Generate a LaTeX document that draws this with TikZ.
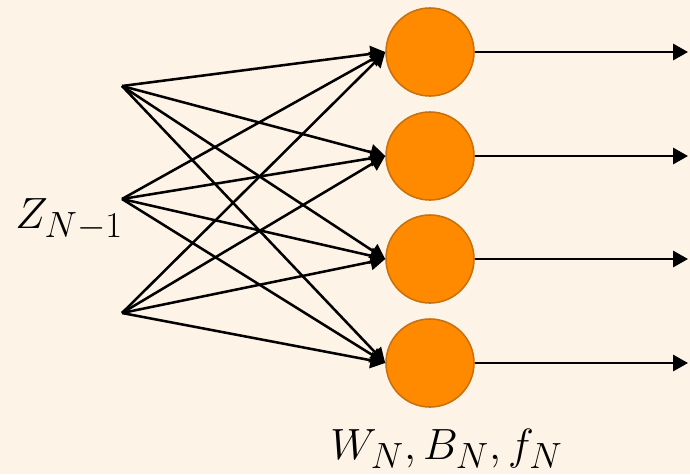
\documentclass[tikz,border=0pt]{standalone}
\usepackage{amsmath,amssymb}
\usetikzlibrary{arrows.meta}

\definecolor{bgcream}{HTML}{FDF3E6}
\definecolor{neuronfill}{HTML}{FF8A00}
\definecolor{neuronedge}{HTML}{C8700E}

\tikzset{
  neuron/.style={circle,fill=neuronfill,draw=neuronedge,line width=1.1pt,
    minimum size=2.2cm,inner sep=0pt},
  wire/.style={line width=1.8pt,-{Triangle[length=0.37cm,width=0.4cm]}},
  lbl/.style={inner sep=0pt,font=\Huge,scale=1.25}
}

\begin{document}
\begin{tikzpicture}[x=0.025cm,y=-0.025cm]
    % Background
    \fill[bgcream] (0,0) rectangle (690,474);

    % Inputs of the layer
    \coordinate (z1) at (122,86);
    \coordinate (z2) at (122,199);
    \coordinate (z3) at (122,313);
    \node[lbl,anchor=base west] (zlab) at (15,228) {\(Z_{N-1}\)};

    % Neurons of layer N
    \foreach \n/\y in {1/52,2/156,3/259,4/363}
        \node[neuron] (n\n) at (430,\y) {};

    % Fully connected weights
    \foreach \s in {1,2,3}
        \foreach \n in {1,2,3,4}
            \draw[wire] (z\s) -- (n\n.west);

    % Outputs
    \foreach \n in {1,2,3,4} {
        \coordinate (o\n) at (688,0 |- n\n);
        \draw[wire] (n\n.east) -- (o\n);
    }

    % Layer parameters
    \node[lbl,anchor=base west] (wlab) at (330,459) {\(W_N, B_N, f_N\)};
\end{tikzpicture}
\end{document}
